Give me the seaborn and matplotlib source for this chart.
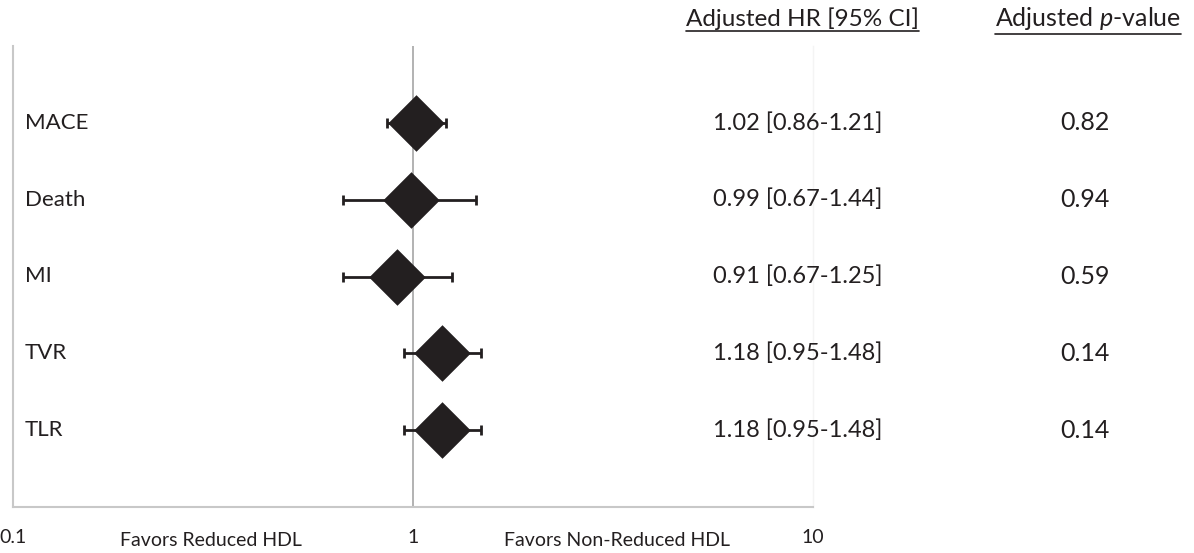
import numpy as np
import pandas as pd
import matplotlib
matplotlib.use("Agg")
import matplotlib.pyplot as plt
import seaborn as sns
from matplotlib.lines import Line2D

# Data
outcomes = ["MACE", "Death", "MI", "TVR", "TLR"]
hr = [1.02, 0.99, 0.91, 1.18, 1.18]
ci_low = [0.86, 0.67, 0.67, 0.95, 0.95]
ci_high = [1.21, 1.44, 1.25, 1.48, 1.48]
p_values = ["0.82", "0.94", "0.59", "0.14", "0.14"]
x_ticks = [0.1, 1, 10]
x_tick_labels = ["0.1", "1", "10"]

df = pd.DataFrame({
    "outcome": outcomes,
    "hr": hr,
    "lo": ci_low,
    "hi": ci_high,
    "pos": np.arange(1, len(outcomes) + 1),
})

sns.set_style("white")
plt.rcParams["font.family"] = ["Lato", "DejaVu Sans"]
plt.rcParams["mathtext.fontset"] = "custom"
plt.rcParams["mathtext.rm"] = "Lato"
plt.rcParams["mathtext.it"] = "Lato:italic"

ink = "#231f20"
fig = plt.figure(figsize=(11.94, 5.53), dpi=100)
ax = fig.add_axes([13 / 1194, 46 / 553, 800 / 1194, 461 / 553])

# CI whiskers
ax.errorbar(df["hr"], df["pos"],
            xerr=[df["hr"] - df["lo"], df["hi"] - df["hr"]],
            fmt="none", ecolor=ink, elinewidth=2.0, capsize=3.5,
            capthick=2.0, zorder=2)

# diamonds
sns.scatterplot(data=df, x="hr", y="pos", marker="D", s=830,
                color=ink, edgecolor=ink, linewidth=0, zorder=3,
                legend=False, ax=ax)

ax.axvline(1, color="#a6a6a6", lw=1.2, zorder=1)

ax.set_xscale("log")
ax.set_xlim(0.1, 10)
ax.set_ylim(6, 0)
ax.set_xticks(x_ticks)
ax.set_xticklabels(x_tick_labels, fontsize=14, color=ink)
ax.minorticks_off()
ax.set_yticks([])
ax.tick_params(axis="x", length=0, pad=16)
ax.set_xlabel("")
ax.set_ylabel("")

for side in ["left", "bottom"]:
    ax.spines[side].set_color("#c8c8c8")
    ax.spines[side].set_linewidth(1.5)
ax.spines["top"].set_visible(False)
ax.spines["right"].set_color("#f4f4f4")
ax.spines["right"].set_linewidth(1.0)

# row labels and right-hand columns
for i, row in df.iterrows():
    ax.text(0.015, row["pos"], row["outcome"], transform=ax.get_yaxis_transform(),
            ha="left", va="center", fontsize=16, color=ink)
    ax.text(0.981, row["pos"], f"{row['hr']:.2f} [{row['lo']:.2f}-{row['hi']:.2f}]",
            transform=ax.get_yaxis_transform(), ha="center", va="center",
            fontsize=17, color=ink)
    ax.text(1.34, row["pos"], p_values[i], transform=ax.get_yaxis_transform(),
            ha="center", va="center", fontsize=18, color=ink)

# favour labels under the axis
ax.text(0.2475, -33 / 461, "Favors Reduced HDL", transform=ax.transAxes,
        ha="center", va="center", fontsize=14, color=ink)
ax.text(0.755, -33 / 461, "Favors Non-Reduced HDL", transform=ax.transAxes,
        ha="center", va="center", fontsize=14, color=ink)

# underlined column headers
headers = [
    fig.text(802 / 1194, 1 - 19 / 553, "Adjusted HR [95% CI]",
             ha="center", va="center", fontsize=17.5, color=ink),
    fig.text(1088 / 1194, 1 - 19 / 553, "Adjusted $\\mathit{p}$-value",
             ha="center", va="center", fontsize=18, color=ink),
]
fig.canvas.draw()
renderer = fig.canvas.get_renderer()
for t in headers:
    bb = t.get_window_extent(renderer).transformed(fig.transFigure.inverted())
    y = bb.y0 - 1 / 553
    fig.add_artist(Line2D([bb.x0, bb.x1], [y, y], transform=fig.transFigure,
                          color=ink, lw=1.2))

fig.savefig("out.png", dpi=100)
